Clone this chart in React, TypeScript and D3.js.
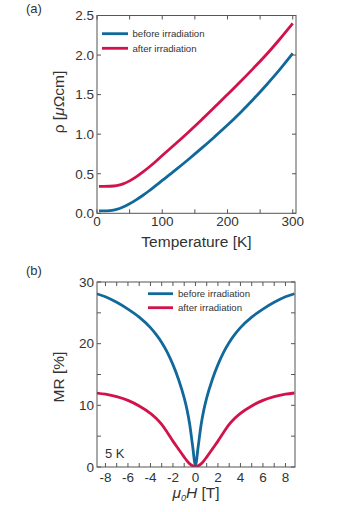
import React from "react";
import * as d3 from "d3";

// Panel (a): resistivity vs temperature
const tempK = [3, 10, 20, 30, 40, 50, 60, 70, 80, 90, 100, 120, 140, 160, 180, 200, 220, 240, 260, 280, 300];
const rhoBefore = [0.03, 0.03, 0.035, 0.05, 0.08, 0.12, 0.17, 0.225, 0.285, 0.35, 0.415, 0.545, 0.68, 0.82, 0.965, 1.115, 1.275, 1.445, 1.625, 1.815, 2.02];
const rhoAfter = [0.34, 0.34, 0.342, 0.35, 0.372, 0.41, 0.46, 0.52, 0.585, 0.655, 0.73, 0.875, 1.025, 1.18, 1.34, 1.5, 1.665, 1.835, 2.01, 2.2, 2.4];
const rhoTicks = [0, 0.5, 1.0, 1.5, 2.0, 2.5];
const tempTicks = [0, 100, 200, 300];

// Panel (b): magnetoresistance vs field
const fieldT = [-8.8, -8, -7, -6, -5, -4, -3.5, -3, -2.5, -2, -1.5, -1, -0.75, -0.5, -0.25, 0, 0.25, 0.5, 0.75, 1, 1.5, 2, 2.5, 3, 3.5, 4, 5, 6, 7, 8, 8.8];
const mrBefore = [28.1, 27.6, 26.7, 25.6, 24.3, 22.6, 21.5, 20.2, 18.6, 16.6, 14.2, 11.2, 9.3, 6.8, 3.4, 0.3, 3.4, 6.8, 9.3, 11.2, 14.2, 16.6, 18.6, 20.2, 21.5, 22.6, 24.3, 25.6, 26.7, 27.6, 28.1];
const mrAfter = [12.0, 11.8, 11.4, 10.8, 9.9, 8.7, 7.9, 6.9, 5.6, 4.2, 2.9, 1.6, 1.0, 0.5, 0.2, 0.1, 0.2, 0.5, 1.0, 1.6, 2.9, 4.2, 5.6, 6.9, 7.9, 8.7, 9.9, 10.8, 11.4, 11.8, 12.0];
const mrTicks = [0, 10, 20, 30];
const fieldTicks = [-8, -6, -4, -2, 0, 2, 4, 6, 8];

const seriesNames = ["before irradiation", "after irradiation"];
const BLUE = "#11699b";
const RED = "#d1124b";
const FONT = "'Liberation Sans', Arial, Helvetica, sans-serif";
const TXT = "#333";
const FRAME = "#555";

export default function App() {
  // panel a geometry
  const aL = 97, aR = 296, aT = 15.5, aB = 213.3;
  const xa = d3.scaleLinear().domain([0, 305]).range([aL, aR]);
  const ya = d3.scaleLinear().domain([0, 2.5]).range([aB, aT]);
  const lineA = (vals: number[]) =>
    d3.line<number>().x((_, i) => xa(tempK[i])).y((v) => ya(v)).curve(d3.curveMonotoneX)(vals) || "";

  // panel b geometry
  const bL = 97, bR = 295, bT = 282, bB = 467;
  const xb = d3.scaleLinear().domain([-8.75, 8.85]).range([bL, bR]);
  const yb = d3.scaleLinear().domain([0, 30]).range([bB, bT]);
  const lineB = (vals: number[]) =>
    d3.line<number>().x((_, i) => xb(fieldT[i])).y((v) => yb(v)).curve(d3.curveMonotoneX)(vals) || "";

  const tl = 4;
  const aMinorX = d3.range(0, 301, 50);
  const bMinorX = d3.range(-8, 9, 1);
  const bMinorY = d3.range(0, 31, 5);

  return (
    <svg width={339} height={512} style={{ position: "absolute", left: 0, top: 0, fontFamily: FONT }}>
      <defs>
        <clipPath id="clipA"><rect x={aL} y={aT} width={aR - aL} height={aB - aT} /></clipPath>
        <clipPath id="clipB"><rect x={bL} y={bT} width={bR - bL} height={bB - bT} /></clipPath>
      </defs>
      <rect x={0} y={0} width={339} height={512} fill="#fff" />

      {/* ---------- Panel (a) ---------- */}
      <text x={26} y={12.5} fontSize={13} fill={TXT}>(a)</text>
      <g clipPath="url(#clipA)">
        <path d={lineA(rhoBefore)} fill="none" stroke={BLUE} strokeWidth={2.8} />
        <path d={lineA(rhoAfter)} fill="none" stroke={RED} strokeWidth={2.8} />
      </g>
      <rect x={aL} y={aT} width={aR - aL} height={aB - aT} fill="none" stroke={FRAME} strokeWidth={1} />
      {aMinorX.map((t) => (
        <g key={"ax" + t}>
          <line x1={xa(t)} x2={xa(t)} y1={aB} y2={aB - tl} stroke={FRAME} />
          <line x1={xa(t)} x2={xa(t)} y1={aT} y2={aT + tl} stroke={FRAME} />
        </g>
      ))}
      {rhoTicks.map((t) => (
        <g key={"ay" + t}>
          <line x1={aL} x2={aL + tl} y1={ya(t)} y2={ya(t)} stroke={FRAME} />
          <line x1={aR} x2={aR - tl} y1={ya(t)} y2={ya(t)} stroke={FRAME} />
          <text x={aL - 3} y={ya(t) + 4.8} fontSize={13.5} textAnchor="end" fill={TXT}>{d3.format(".1f")(t)}</text>
        </g>
      ))}
      {tempTicks.map((t) => (
        <text key={"axl" + t} x={xa(t)} y={225.5} fontSize={13.5} textAnchor="middle" fill={TXT}>{t}</text>
      ))}
      <text x={(aL + aR) / 2} y={246.5} fontSize={15.5} textAnchor="middle" fill={TXT}>Temperature [K]</text>
      <text transform={`translate(64,102) rotate(-90)`} fontSize={15.5} textAnchor="middle" fill={TXT}>
        ρ [<tspan fontStyle="italic">μ</tspan>Ωcm]
      </text>
      {seriesNames.map((n, i) => (
        <g key={"la" + i}>
          <line x1={102} x2={128} y1={33.7 + i * 14.6} y2={33.7 + i * 14.6} stroke={i === 0 ? BLUE : RED} strokeWidth={2.8} />
          <text x={132.5} y={33.7 + i * 14.6 + 3.4} fontSize={9.6} fill={TXT}>{n}</text>
        </g>
      ))}

      {/* ---------- Panel (b) ---------- */}
      <text x={26} y={275} fontSize={13} fill={TXT}>(b)</text>
      <g clipPath="url(#clipB)">
        <path d={lineB(mrBefore)} fill="none" stroke={BLUE} strokeWidth={2.8} />
        <path d={lineB(mrAfter)} fill="none" stroke={RED} strokeWidth={2.8} />
      </g>
      <rect x={bL} y={bT} width={bR - bL} height={bB - bT} fill="none" stroke={FRAME} strokeWidth={1} />
      {bMinorX.map((t) => (
        <g key={"bx" + t}>
          <line x1={xb(t)} x2={xb(t)} y1={bB} y2={bB - tl} stroke={FRAME} />
          <line x1={xb(t)} x2={xb(t)} y1={bT} y2={bT + tl} stroke={FRAME} />
        </g>
      ))}
      {bMinorY.map((t) => (
        <g key={"by" + t}>
          <line x1={bL} x2={bL + tl} y1={yb(t)} y2={yb(t)} stroke={FRAME} />
          <line x1={bR} x2={bR - tl} y1={yb(t)} y2={yb(t)} stroke={FRAME} />
        </g>
      ))}
      {mrTicks.map((t) => (
        <text key={"byl" + t} x={bL - 3} y={yb(t) + 4.8} fontSize={13.5} textAnchor="end" fill={TXT}>{t}</text>
      ))}
      {fieldTicks.map((t) => (
        <text key={"bxl" + t} x={xb(t)} y={481.5} fontSize={13.5} textAnchor="middle" fill={TXT}>{String(t)}</text>
      ))}
      <text x={(bL + bR) / 2} y={498} fontSize={15.5} textAnchor="middle" fill={TXT}>
        <tspan fontStyle="italic">μ</tspan><tspan fontStyle="italic" fontSize={9} dy={3}>0</tspan><tspan fontStyle="italic" dy={-3}>H</tspan> [T]
      </text>
      <text transform={`translate(64,377) rotate(-90)`} fontSize={15.5} textAnchor="middle" fill={TXT}>MR [%]</text>
      <text x={105} y={458} fontSize={13} fill={TXT}>5 K</text>
      {seriesNames.map((n, i) => (
        <g key={"lb" + i}>
          <line x1={148} x2={173} y1={293.7 + i * 14} y2={293.7 + i * 14} stroke={i === 0 ? BLUE : RED} strokeWidth={2.8} />
          <text x={178} y={293.7 + i * 14 + 3.4} fontSize={9.6} fill={TXT}>{n}</text>
        </g>
      ))}
    </svg>
  );
}
